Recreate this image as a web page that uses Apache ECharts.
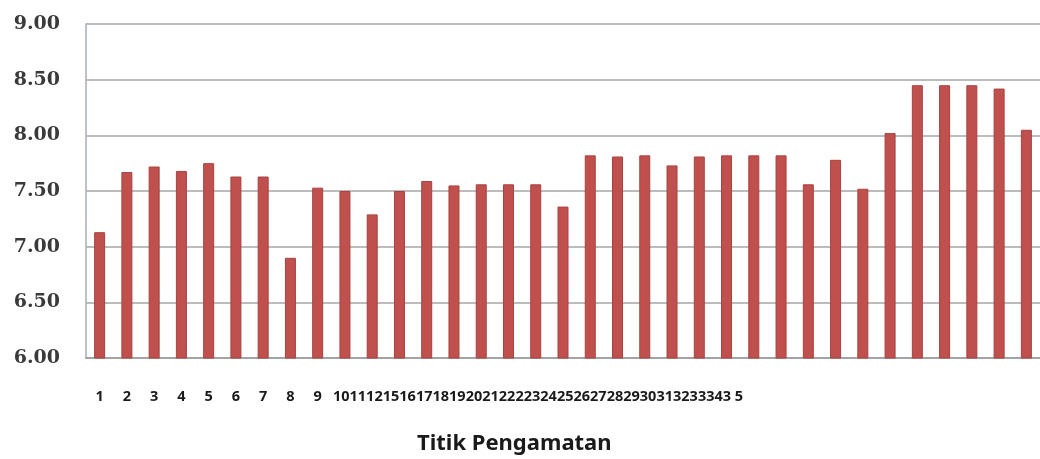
<!DOCTYPE html>
<html>
<head>
<meta charset="utf-8">
<script src="https://cdn.jsdelivr.net/npm/echarts@6/dist/echarts.min.js"></script>
<style>
  html, body { margin: 0; padding: 0; background: #fff; }
  #chart { width: 1040px; height: 459px; }
</style>
</head>
<body>
<div id="chart"></div>
<script>
// titik pengamatan (bars)
const points = [
  '1', '2', '3', '4', '5', '6', '7', '8', '9', '10',
  '11', '12', '13', '14', '15', '16', '17', '18', '19', '20',
  '21', '22', '23', '24', '25', '26', '27', '28', '29', '30',
  '31', '32', '33', '34', '35'
]

// nilai tiap titik
const values = [
  7.13, 7.67, 7.72, 7.68, 7.75, 7.63, 7.63, 6.90, 7.53, 7.50,
  7.29, 7.50, 7.59, 7.55, 7.56, 7.56, 7.56, 7.36, 7.82, 7.81,
  7.82, 7.73, 7.81, 7.82, 7.82, 7.82, 7.56, 7.78, 7.52, 8.02,
  8.45, 8.45, 8.45, 8.42, 8.05
]

// label sumbu x persis seperti tertulis di gambar
const tickLabels = [
  '1', '2', '3', '4', '5', '6', '7', '8', '9', '10',
  '11', '12', '15', '16', '17', '18', '19', '20', '21', '22',
  '2', '23', '24', '25', '26', '27', '28', '29', '30', '31',
  '32', '33', '34', '3 5'
]

const yTicks = { min: 6, max: 9, step: 0.5 }
const xTitle = 'Titik Pengamatan'

const chart = echarts.init(document.getElementById('chart'))

const labelFont = {
  fontFamily: 'Noto Sans',
  fontWeight: 'bold',
  fontSize: 14.5,
  color: '#1a1a1a'
}

const option = {
  animation: false,
  backgroundColor: '#fff',
  title: {
    text: xTitle,
    left: 417,
    top: 433,
    padding: 0,
    textStyle: {
      fontFamily: 'Noto Sans',
      fontWeight: 'bold',
      fontSize: 22,
      color: '#1a1a1a'
    }
  },
  grid: {
    left: 86,
    top: 24,
    right: -10,
    bottom: 101
  },
  xAxis: {
    type: 'category',
    data: points,
    axisTick: { show: false },
    axisLine: { lineStyle: { color: '#9a9a9a', width: 1.5 } },
    axisLabel: {
      interval: 0,
      margin: 31,
      ...labelFont,
      formatter: (v, i) => (i < 9 ? tickLabels[i] : '')
    }
  },
  yAxis: {
    type: 'value',
    min: yTicks.min,
    max: yTicks.max,
    interval: yTicks.step,
    axisLine: { show: true, lineStyle: { color: '#a7afbd', width: 1.5 } },
    axisTick: { show: false },
    axisLabel: {
      margin: 26,
      fontFamily: 'DejaVu Serif',
      fontWeight: 'bold',
      fontSize: 19,
      color: '#3a3a3a',
      formatter: v => v.toFixed(2)
    },
    splitLine: { lineStyle: { color: '#a6a6a6', width: 1.5 } }
  },
  series: [
    {
      type: 'bar',
      data: values,
      barWidth: 11,
      itemStyle: {
        color: '#c0504d',
        borderColor: '#a8423f',
        borderWidth: 1
      }
    }
  ]
}

chart.setOption(option)

// sisa label (10 dst.) tertulis rapat mulai dari titik ke-10
const startX = chart.convertToPixel({ xAxisIndex: 0 }, points[9]) - 12
const baseY = chart.convertToPixel({ yAxisIndex: 0 }, yTicks.min)
chart.setOption({
  graphic: [
    {
      type: 'text',
      x: startX,
      y: baseY + 39,
      style: {
        text: tickLabels.slice(9).join(''),
        font: 'bold 14.5px "Noto Sans"',
        fill: '#1a1a1a',
        textAlign: 'left',
        textVerticalAlign: 'middle'
      }
    }
  ]
})
</script>
</body>
</html>
